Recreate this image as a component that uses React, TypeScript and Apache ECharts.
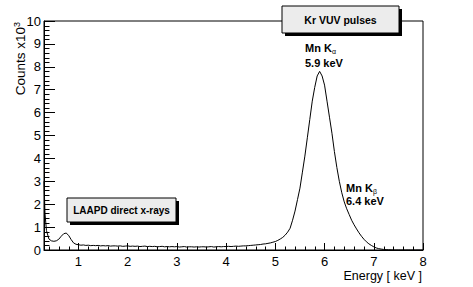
import React, { useEffect, useRef } from "react";
import * as echarts from "echarts";

// Energy bin centres (keV)
const energies = [
  0.30, 0.32, 0.35, 0.40, 0.45, 0.50, 0.55, 0.60, 0.65, 0.70, 0.75, 0.80, 0.85, 0.90, 0.95,
  1.00, 1.05, 1.10, 1.15, 1.20, 1.25, 1.30, 1.35, 1.40, 1.45, 1.50, 1.55, 1.60, 1.65, 1.70, 1.75, 1.80, 1.85, 1.90, 1.95,
  2.00, 2.05, 2.10, 2.15, 2.20, 2.25, 2.30, 2.35, 2.40, 2.45, 2.50, 2.55, 2.60, 2.65, 2.70, 2.75, 2.80, 2.85, 2.90, 2.95,
  3.00, 3.05, 3.10, 3.15, 3.20, 3.25, 3.30, 3.35, 3.40, 3.45, 3.50, 3.55, 3.60, 3.65, 3.70, 3.75, 3.80, 3.85, 3.90, 3.95,
  4.00, 4.05, 4.10, 4.15, 4.20, 4.25, 4.30, 4.35, 4.40, 4.45, 4.50, 4.55, 4.60, 4.65, 4.70, 4.75, 4.80, 4.85, 4.90, 4.95,
  5.00, 5.05, 5.10, 5.15, 5.20, 5.25, 5.30, 5.35, 5.40, 5.45, 5.50, 5.55, 5.60, 5.65, 5.70, 5.75, 5.80, 5.85, 5.90, 5.95,
  6.00, 6.05, 6.10, 6.15, 6.20, 6.25, 6.30, 6.35, 6.40, 6.45, 6.50, 6.55, 6.60, 6.65, 6.70, 6.75, 6.80, 6.85, 6.90, 6.95,
  7.00, 7.05, 7.10, 7.15, 7.20, 7.25, 7.30, 7.35, 7.40, 7.45, 7.50, 7.55, 7.60, 7.65, 7.70, 7.75, 7.80, 7.85, 7.90, 7.95,
  8.00,
];

// Counts in units of 10^3
const countsK = [
  3.0, 1.6, 0.85, 0.48, 0.40, 0.38, 0.40, 0.47, 0.60, 0.71, 0.74, 0.64, 0.46, 0.31, 0.25,
  0.23, 0.21, 0.22, 0.20, 0.21, 0.19, 0.20, 0.19, 0.20, 0.18, 0.19, 0.18, 0.19, 0.17, 0.18, 0.18, 0.17, 0.18, 0.16, 0.17,
  0.18, 0.16, 0.17, 0.16, 0.17, 0.15, 0.16, 0.17, 0.15, 0.16, 0.15, 0.16, 0.14, 0.15, 0.16, 0.14, 0.15, 0.14, 0.15, 0.14,
  0.15, 0.13, 0.14, 0.15, 0.13, 0.14, 0.14, 0.13, 0.14, 0.13, 0.14, 0.14, 0.13, 0.14, 0.15, 0.13, 0.14, 0.15, 0.14, 0.15,
  0.15, 0.16, 0.15, 0.16, 0.17, 0.16, 0.17, 0.18, 0.18, 0.19, 0.20, 0.21, 0.22, 0.23, 0.24, 0.26, 0.27, 0.29, 0.31, 0.34,
  0.37, 0.42, 0.48, 0.55, 0.65, 0.78, 0.95, 1.30, 1.70, 2.20, 2.70, 3.40, 4.10, 4.90, 5.70, 6.50, 7.10, 7.60, 7.80, 7.60,
  7.20, 6.50, 5.80, 5.10, 4.30, 3.60, 3.00, 2.50, 2.10, 1.80, 1.55, 1.30, 1.10, 0.92, 0.75, 0.60, 0.47, 0.36, 0.27, 0.20,
  0.14, 0.09, 0.06, 0.04, 0.025, 0.015, 0.01, 0.005, 0, 0, 0, 0, 0, 0, 0, 0, 0, 0, 0, 0,
  0,
];

// Secondary (minor) tick positions
const xMinorTicks = [
  0.4, 0.6, 0.8,
  1.2, 1.4, 1.6, 1.8, 2.2, 2.4, 2.6, 2.8, 3.2, 3.4, 3.6, 3.8,
  4.2, 4.4, 4.6, 4.8, 5.2, 5.4, 5.6, 5.8, 6.2, 6.4, 6.6, 6.8, 7.2, 7.4, 7.6, 7.8,
];
const yMinorTicks = [
  0.2, 0.4, 0.6, 0.8, 1.2, 1.4, 1.6, 1.8, 2.2, 2.4, 2.6, 2.8, 3.2, 3.4, 3.6, 3.8,
  4.2, 4.4, 4.6, 4.8, 5.2, 5.4, 5.6, 5.8, 6.2, 6.4, 6.6, 6.8, 7.2, 7.4, 7.6, 7.8,
  8.2, 8.4, 8.6, 8.8, 9.2, 9.4, 9.6, 9.8,
];

const xMin = 0.3;
const xMax = 8;
const yMin = 0;
const yMax = 10;

const xTitle = "Energy [ keV ]";
const yTitleMain = "Counts x10";
const yTitleExp = "3";
const topBoxText = "Kr VUV pulses";
const lowBoxText = "LAAPD direct x-rays";
const kaLines = ["Mn K", "\u03b1", "5.9 keV"];
const kbLines = ["Mn K", "\u03b2", "6.4 keV"];

const FONT = "Liberation Sans";

function box(x: number, y: number, w: number, h: number, text: string, fs: number) {
  return [
    { type: "rect", z: 100, shape: { x: x + 3, y: y + 3, width: w, height: h }, style: { fill: "#000" } },
    {
      type: "rect",
      z: 101,
      shape: { x, y, width: w, height: h },
      style: { fill: "#ececec", stroke: "#000", lineWidth: 1 },
    },
    {
      type: "text",
      z: 102,
      x: x + w / 2,
      y: y + h / 2,
      style: {
        text,
        fontSize: fs,
        fontWeight: "bold",
        fontFamily: FONT,
        fill: "#000",
        align: "center",
        verticalAlign: "middle",
      },
    },
  ];
}

function label(x: number, y: number, text: string, fs: number) {
  return {
    type: "text",
    z: 102,
    x,
    y,
    style: { text, fontSize: fs, fontWeight: "bold", fontFamily: FONT, fill: "#000", align: "left", verticalAlign: "middle" },
  };
}

export default function App() {
  const ref = useRef<HTMLDivElement>(null);
  useEffect(() => {
    const chart = echarts.init(ref.current!, null, { renderer: "svg" });
    const data = energies.map((e, i) => [e, countsK[i]]);
    const crisp = (v: number) => Math.round(v) + 0.5;
    chart.setOption({
      animation: false,
      backgroundColor: "#fff",
      textStyle: { fontFamily: FONT },
      grid: {
        left: 44,
        right: 50,
        top: 21,
        bottom: 37,
        show: true,
        borderColor: "#000",
        borderWidth: 1,
        backgroundColor: "transparent",
      },
      xAxis: {
        type: "value",
        min: xMin,
        max: xMax,
        splitNumber: 8,
        axisLine: { show: true, lineStyle: { color: "#000", width: 1 } },
        axisTick: { show: true, inside: true, length: 7, lineStyle: { color: "#000" } },
        splitLine: { show: false },
        axisLabel: { showMinLabel: false, color: "#000", fontSize: 13, margin: 5, fontFamily: FONT },
      },
      yAxis: {
        type: "value",
        min: yMin,
        max: yMax,
        interval: 1,
        axisLine: { show: true, lineStyle: { color: "#000", width: 1 } },
        axisTick: { show: true, inside: true, length: 11, lineStyle: { color: "#000" } },
        splitLine: { show: false },
        axisLabel: { color: "#000", fontSize: 13, margin: 3, fontFamily: FONT },
      },
      series: [
        {
          type: "line",
          data,
          showSymbol: false,
          symbol: "none",
          lineStyle: { color: "#000", width: 1 },
          clip: true,
          z: 5,
        },
        {
          type: "custom",
          silent: true,
          clip: false,
          z: 4,
          data: xMinorTicks.map((v) => [v, yMin]),
          encode: { x: 0, y: 1 },
          renderItem: (_p: any, api: any) => {
            const p = api.coord([api.value(0), yMin]);
            const x = crisp(p[0]);
            return {
              type: "line",
              shape: { x1: x, y1: p[1], x2: x, y2: p[1] - 3.5 },
              style: { stroke: "#000", lineWidth: 1 },
            };
          },
        },
        {
          type: "custom",
          silent: true,
          clip: false,
          z: 4,
          data: yMinorTicks.map((v) => [xMin, v]),
          encode: { x: 0, y: 1 },
          renderItem: (_p: any, api: any) => {
            const p = api.coord([xMin, api.value(1)]);
            const y = crisp(p[1]);
            return {
              type: "line",
              shape: { x1: p[0], y1: y, x2: p[0] + 5.5, y2: y },
              style: { stroke: "#000", lineWidth: 1 },
            };
          },
        },
      ],
      graphic: [
        {
          type: "text",
          x: 20,
          y: 22,
          rotation: Math.PI / 2,
          style: {
            text: `{m|${yTitleMain}}{s|${yTitleExp}}`,
            rich: {
              m: { fontSize: 13.5, lineHeight: 16, fontFamily: FONT, fill: "#000" },
              s: { fontSize: 9, lineHeight: 10, verticalAlign: "top", fontFamily: FONT, fill: "#000" },
            },
            align: "right",
            verticalAlign: "middle",
          },
        },
        {
          type: "text",
          x: 422,
          y: 276,
          style: { text: xTitle, fontSize: 12.5, fontFamily: FONT, fill: "#000", align: "right", verticalAlign: "middle" },
        },
        ...box(282, 6, 117, 27, topBoxText, 10.5),
        ...box(67, 198, 109, 24, lowBoxText, 10),
        label(305, 48, kaLines[0], 11),
        {
          type: "text",
          z: 102,
          x: 332,
          y: 51,
          style: { text: kaLines[1], fontSize: 7, fontFamily: FONT, fill: "#000", align: "left", verticalAlign: "middle" },
        },
        label(305, 63, kaLines[2], 11),
        label(346, 188, kbLines[0], 11),
        {
          type: "text",
          z: 102,
          x: 373,
          y: 191,
          style: { text: kbLines[1], fontSize: 7, fontFamily: FONT, fill: "#000", align: "left", verticalAlign: "middle" },
        },
        label(346, 201, kbLines[2], 11),
      ],
    });
    return () => chart.dispose();
  }, []);
  return <div ref={ref} style={{ position: "fixed", left: 0, top: 0, width: 473, height: 287 }} />;
}
